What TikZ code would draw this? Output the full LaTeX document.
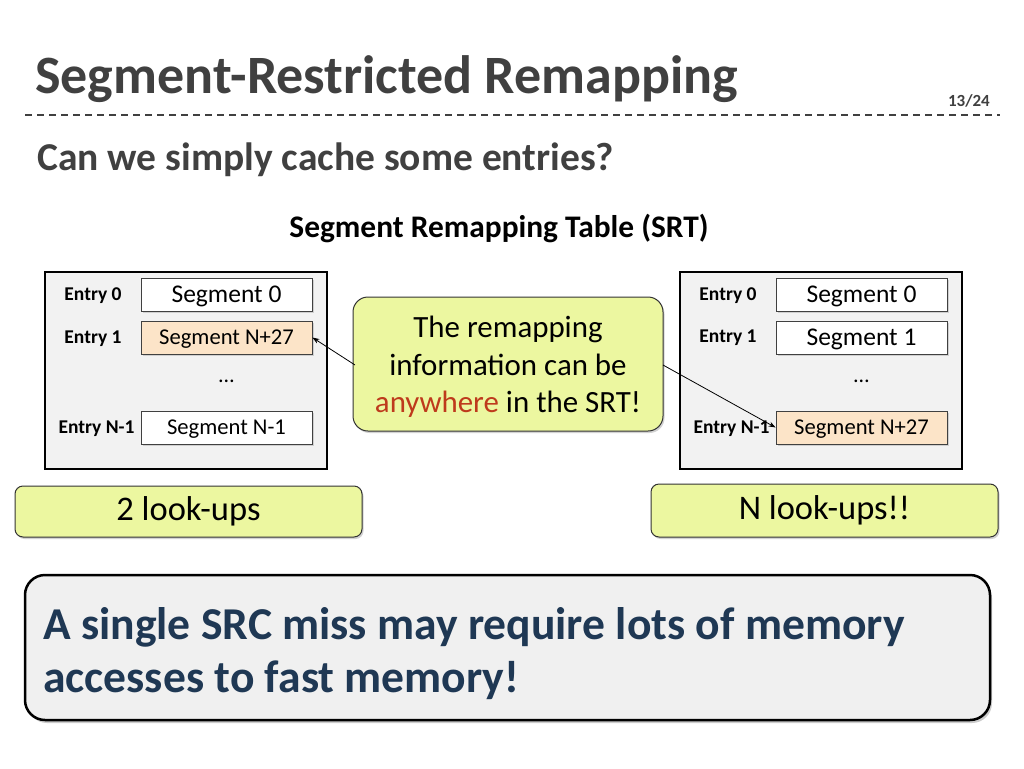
\documentclass[tikz,border=0pt]{standalone}
\usepackage{fontspec}
\setmainfont{Carlito}
\usetikzlibrary{shadows,arrows.meta}
\definecolor{titlegray}{RGB}{64,64,64}
\definecolor{tablefill}{RGB}{242,242,242}
\definecolor{peach}{RGB}{252,228,200}
\definecolor{calloutfill}{RGB}{236,247,160}
\definecolor{anyred}{RGB}{190,58,28}
\definecolor{bottomfill}{RGB}{240,240,240}
\definecolor{navy}{RGB}{31,56,84}
\tikzset{
  tablebox/.style={draw=black, line width=1.5pt, fill=tablefill, minimum width=282pt, minimum height=197pt, inner sep=0},
  segbox/.style={draw=black!75, line width=0.8pt, fill=white, minimum width=171pt, minimum height=33pt, inner sep=0,
     text height=16.3pt, text depth=0pt,
     font=\fontsize{25.5}{28}\selectfont, drop shadow={opacity=0.3, shadow xshift=1.5pt, shadow yshift=-1.5pt}},
  smallseg/.style={font=\fontsize{22.6}{26}\selectfont, text height=14.5pt},
  entrylbl/.style={font=\bfseries\fontsize{19.5}{22}\selectfont, inner sep=0},
  greenbox/.style={draw=black!80, line width=1pt, fill=calloutfill, rounded corners=8pt, inner sep=0,
     drop shadow={opacity=0.35, shadow xshift=1.5pt, shadow yshift=-2pt}},
  conn/.style={-{Stealth[length=7pt,width=5pt]}, line width=0.8pt, black}
}
\begin{document}
\begin{tikzpicture}[x=1pt,y=-1pt]
\useasboundingbox (0,0) rectangle (1024,768);
\fill[white] (0,0) rectangle (1024,768);
% title
\node[anchor=base west, inner sep=0, text=titlegray, font=\bfseries\fontsize{54}{60}\selectfont] (title) at (35,93) {Segment-Restricted Remapping};
\node[anchor=base east, inner sep=0, text=titlegray, font=\bfseries\fontsize{17}{20}\selectfont] (pg) at (990,106) {13/24};
\draw[titlegray, line width=1.2pt, dash pattern=on 7pt off 5pt] (25,115) -- (1000,115);
\node[anchor=base west, inner sep=0, text=titlegray, font=\bfseries\fontsize{39.5}{44}\selectfont] (sub) at (37,170) {Can we simply cache some entries?};
\node[anchor=base, inner sep=0, font=\bfseries\fontsize{31.4}{34}\selectfont] (srt) at (499,237) {Segment Remapping Table (SRT)};
% left table
\node[tablebox] (lt) at (186,370.5) {};
\node[segbox] (l0) at (226.5,294.5) {Segment 0};
\node[segbox, smallseg, fill=peach] (l1) at (226.5,337.5) {Segment N+27};
\node[inner sep=0, font=\fontsize{22}{24}\selectfont] (ld) at (226.5,381) {\dots};
\node[segbox, smallseg] (ln) at (226.5,427.5) {Segment N-1};
\node[entrylbl] (le0) at (93,296) {Entry 0};
\node[entrylbl] (le1) at (93,339) {Entry 1};
\node[entrylbl] (len) at (96.5,429) {Entry N-1};
% right table
\node[tablebox] (rt) at (821,370.5) {};
\node[segbox] (r0) at (861.5,294.5) {Segment 0};
\node[segbox] (r1) at (861.5,337.5) {Segment 1};
\node[inner sep=0, font=\fontsize{22}{24}\selectfont] (rd) at (861.5,381) {\dots};
\node[segbox, smallseg, fill=peach] (rn) at (861.5,427.5) {Segment N+27};
\node[entrylbl] (re0) at (728,296) {Entry 0};
\node[entrylbl] (re1) at (728,338) {Entry 1};
\node[entrylbl] (ren) at (731.5,429) {Entry N-1};
% callout
\node[greenbox, rounded corners=15pt, minimum width=310pt, minimum height=134pt] (call) at (508,364) {};
\node[align=center, inner sep=0, font=\fontsize{30.9}{37.5}\selectfont] (calltext) at (508,367)
  {The remapping\\information can be\\\textcolor{anyred}{anywhere} in the SRT!};
\coordinate (cl) at (355,365);
\coordinate (cr) at (663,365);
\draw[conn] (cl) -- (l1.east);
\draw[conn] (cr) -- (rn.west);
% look-ups
\node[greenbox, minimum width=347pt, minimum height=51pt, font=\fontsize{34.5}{36}\selectfont] (lu) at (188.5,511.5) {2 look-ups};
\node[greenbox, minimum width=347pt, minimum height=53pt, font=\fontsize{34.5}{36}\selectfont] (ru) at (824.5,510.5) {N look-ups!!};
% bottom
\node[draw=black, line width=2.5pt, fill=bottomfill, rounded corners=20pt, minimum width=965pt, minimum height=145pt,
      drop shadow={opacity=0.4, shadow xshift=2pt, shadow yshift=-3pt}] (bot) at (507.5,647.5) {};
\node[anchor=base west, inner sep=0, text=navy, font=\bfseries\fontsize{45.6}{50}\selectfont] (msg1) at (43,639)
  {A single SRC miss may require lots of memory};
\node[anchor=base west, inner sep=0, text=navy, font=\bfseries\fontsize{45.6}{50}\selectfont] (msg2) at (43,692)
  {accesses to fast memory!};
\end{tikzpicture}
\end{document}
